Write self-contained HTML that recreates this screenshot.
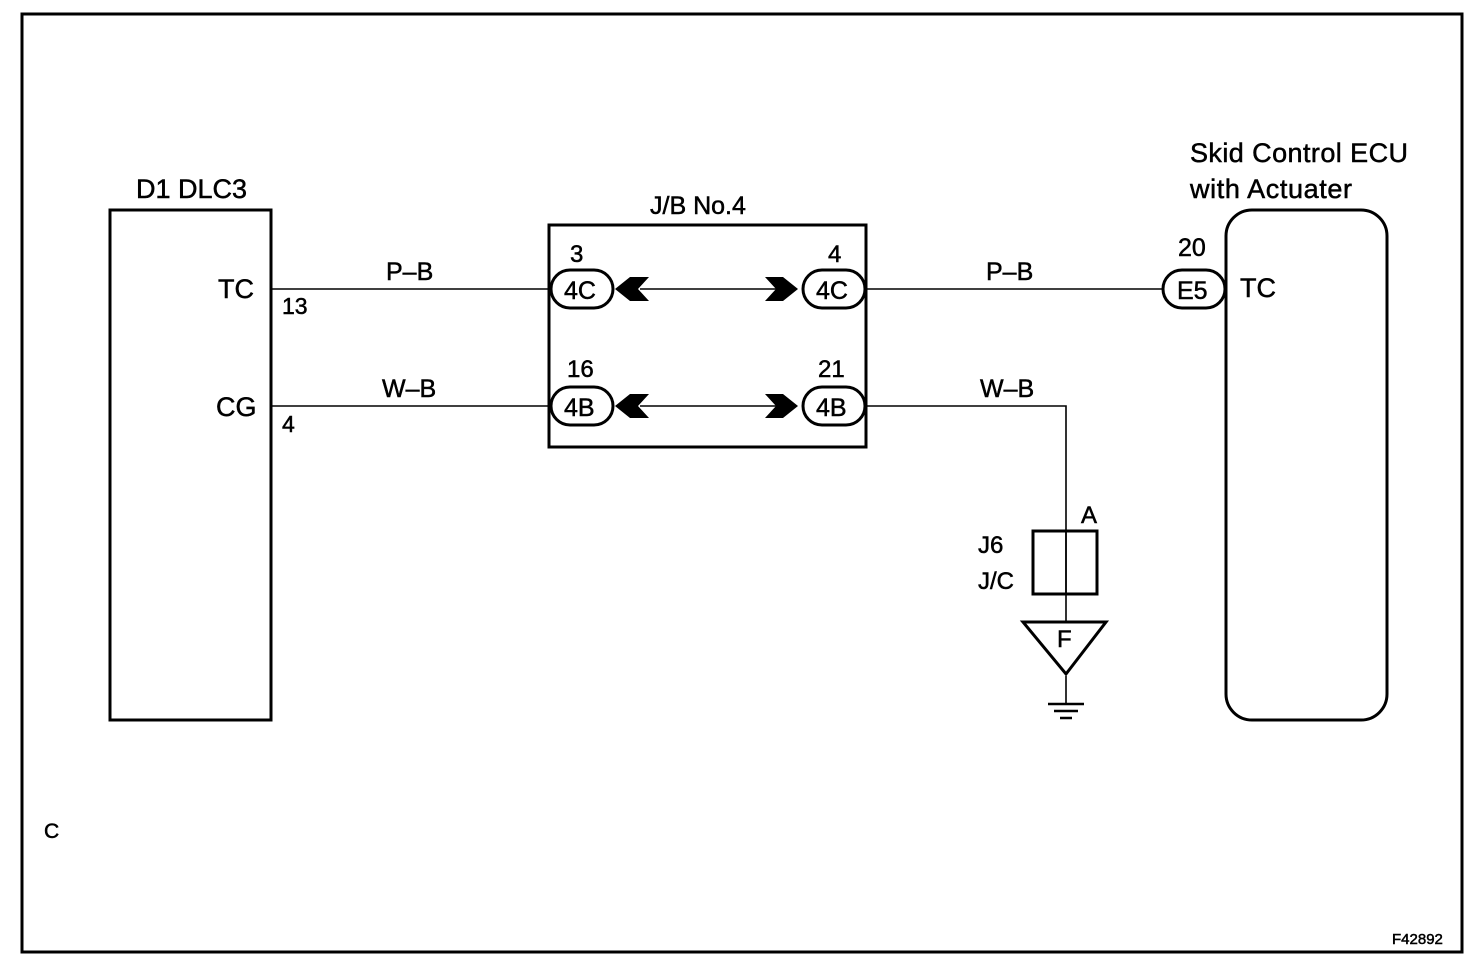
<!DOCTYPE html>
<html><head><meta charset="utf-8"><style>
html,body{margin:0;padding:0;background:#fff}
svg{display:block}
text{font-family:"Liberation Sans",Arial,sans-serif;fill:#000;stroke:#000;stroke-width:0.5}
</style></head><body>
<svg width="1472" height="966" viewBox="0 0 1472 966" xmlns="http://www.w3.org/2000/svg">
<rect x="22" y="14" width="1440" height="938" fill="none" stroke="#000" stroke-width="3"/>
<rect x="110" y="210" width="161" height="510" fill="none" stroke="#000" stroke-width="3"/>
<text x="136" y="198" font-size="27">D1 DLC3</text>
<text x="218" y="298" font-size="27">TC</text>
<text x="282" y="314" font-size="23">13</text>
<text x="216" y="416" font-size="27">CG</text>
<text x="282" y="432" font-size="23">4</text>
<rect x="1226" y="210" width="161" height="510" rx="26" fill="none" stroke="#000" stroke-width="3"/>
<text x="1190" y="162" font-size="27" textLength="218">Skid Control ECU</text>
<text x="1190" y="198" font-size="27" textLength="162">with Actuater</text>
<text x="1240" y="297" font-size="27">TC</text>
<text x="1178" y="256" font-size="25">20</text>
<rect x="549" y="225" width="317" height="222" fill="none" stroke="#000" stroke-width="3"/>
<text x="650" y="214" font-size="25">J/B No.4</text>
<g stroke="#000" stroke-width="1.6" fill="none">
<line x1="271" y1="289" x2="550" y2="289"/>
<line x1="271" y1="406" x2="550" y2="406"/>
<line x1="640" y1="289" x2="780" y2="289"/>
<line x1="640" y1="406" x2="780" y2="406"/>
<line x1="866" y1="289" x2="1163" y2="289"/>
<path d="M866 406 H1066 V622"/>
<line x1="1066" y1="676" x2="1066" y2="703"/>
</g>
<text x="386" y="280" font-size="25">P–B</text>
<text x="382" y="397" font-size="25">W–B</text>
<text x="986" y="280" font-size="25">P–B</text>
<text x="980" y="397" font-size="25">W–B</text>
<g stroke="#000" stroke-width="3" fill="#fff">
<rect x="551" y="270" width="62" height="38" rx="19"/>
<rect x="803" y="270" width="62" height="38" rx="19"/>
<rect x="551" y="387" width="62" height="38" rx="19"/>
<rect x="803" y="387" width="62" height="38" rx="19"/>
<rect x="1163" y="270" width="62" height="38" rx="19"/>
</g>
<text x="564" y="299" font-size="25">4C</text>
<text x="816" y="299" font-size="25">4C</text>
<text x="564" y="416" font-size="25">4B</text>
<text x="816" y="416" font-size="25">4B</text>
<text x="1177" y="299" font-size="25">E5</text>
<text x="570" y="262" font-size="24">3</text>
<text x="828" y="262" font-size="24">4</text>
<text x="567" y="377" font-size="24">16</text>
<text x="818" y="377" font-size="24">21</text>
<g fill="#000">
<path d="M615 289 L630 277 H649 L638 289 L649 301 H630 Z"/>
<path d="M615 406 L630 394 H649 L638 406 L649 418 H630 Z"/>
<path d="M798 289 L783 277 H765 L776 289 L765 301 H783 Z"/>
<path d="M798 406 L783 394 H765 L776 406 L765 418 H783 Z"/>
</g>
<rect x="1033" y="531" width="64" height="63" fill="none" stroke="#000" stroke-width="3"/>
<line x1="1066" y1="531" x2="1066" y2="594" stroke="#000" stroke-width="1.6"/>
<text x="1081" y="523" font-size="24">A</text>
<text x="978" y="553" font-size="24">J6</text>
<text x="978" y="589" font-size="24">J/C</text>
<path d="M1023 622 H1106 L1066 674 Z" fill="none" stroke="#000" stroke-width="3"/>
<text x="1057" y="647" font-size="24">F</text>
<g stroke="#000" stroke-width="2.5">
<line x1="1048" y1="704" x2="1084" y2="704"/>
<line x1="1054" y1="711" x2="1078" y2="711"/>
<line x1="1060" y1="718" x2="1072" y2="718"/>
</g>
<text x="44" y="838" font-size="21">C</text>
<text x="1392" y="944" font-size="15">F42892</text>
</svg>
</body></html>
